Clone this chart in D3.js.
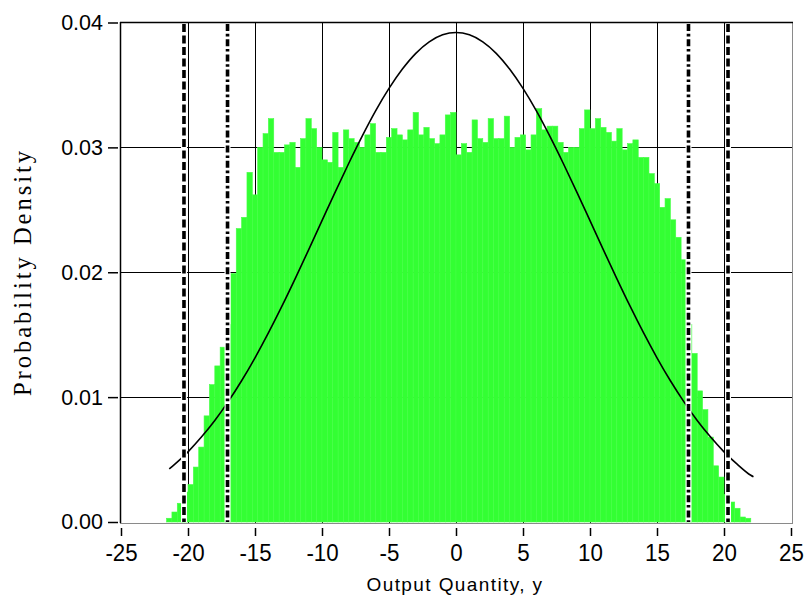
<!DOCTYPE html>
<html>
<head>
<meta charset="utf-8">
<script src="https://cdn.jsdelivr.net/npm/d3@7"></script>
<style>
    html, body { margin: 0; padding: 0; background: #fff; }
    #chart { width: 804px; height: 595px; }
    .tick text { fill: #000; }
</style>
</head>
<body>
<div id="chart"></div>
<script>
// Histogram of the output quantity (bins of equal width starting at histStart)
const histStart = -21.6;
const histBinWidth = 0.4;
const histDensity = [
    0.0003, 0.0008, 0.0015, 0.0024, 0.0030, 0.0044, 0.0060, 0.0085, 0.0110, 0.0125,
    0.0140, 0.0158, 0.0199, 0.0235, 0.0244, 0.0280, 0.0262, 0.0300, 0.0311, 0.0323,
    0.0296, 0.0296, 0.0302, 0.0304, 0.0284, 0.0307, 0.0323, 0.0315, 0.0300, 0.0290,
    0.0288, 0.0312, 0.0284, 0.0314, 0.0307, 0.0304, 0.0300, 0.0310, 0.0319, 0.0296,
    0.0296, 0.0308, 0.0315, 0.0310, 0.0306, 0.0314, 0.0328, 0.0310, 0.0316, 0.0307,
    0.0303, 0.0310, 0.0326, 0.0328, 0.0294, 0.0303, 0.0296, 0.0322, 0.0307, 0.0304,
    0.0323, 0.0307, 0.0307, 0.0325, 0.0300, 0.0308, 0.0310, 0.0298, 0.0310, 0.0331,
    0.0314, 0.0317, 0.0317, 0.0304, 0.0296, 0.0300, 0.0300, 0.0315, 0.0330, 0.0315,
    0.0323, 0.0316, 0.0312, 0.0305, 0.0315, 0.0298, 0.0303, 0.0306, 0.0292, 0.0292,
    0.0279, 0.0271, 0.0252, 0.0259, 0.0242, 0.0228, 0.0210, 0.0158, 0.0135, 0.0105,
    0.0090, 0.0068, 0.0045, 0.0036, 0.0022, 0.0016, 0.0011, 0.0004, 0.0003
];

// Gaussian approximation curve
const curveX = [-21.4, -21, -20, -19, -18, -17, -16, -15, -14, -13, -12, -11, -10, -9, -8, -7, -6, -5, -4, -3, -2, -1,
    0, 1, 2, 3, 4, 5, 6, 7, 8, 9, 10, 11, 12, 13, 14, 15, 16, 17, 18, 19, 20, 21, 22, 22.2];
const curveY = [0.00425, 0.00461, 0.00562, 0.00680, 0.00813, 0.00964, 0.01131, 0.01315, 0.01514, 0.01726,
    0.01949, 0.02179, 0.02413, 0.02646, 0.02873, 0.03090, 0.03292, 0.03472, 0.03627, 0.03753, 0.03845, 0.03901,
    0.03920,
    0.03901, 0.03845, 0.03753, 0.03627, 0.03472, 0.03292, 0.03090, 0.02873, 0.02646, 0.02413, 0.02179, 0.01949,
    0.01726, 0.01514, 0.01315, 0.01131, 0.00964, 0.00813, 0.00680, 0.00562, 0.00461, 0.00374, 0.00362];

// Coverage interval limits
const dashedLimits = [-20.3, 20.3];
const dashDotLimits = [-17.05, 17.35];

// Axes
const xTicks = [-25, -20, -15, -10, -5, 0, 5, 10, 15, 20, 25];
const yTicks = [0, 0.01, 0.02, 0.03, 0.04];
const xTitle = 'Output Quantity, y';
const yTitle = 'Probability Density';

const svg = d3.select('#chart')
    .append('svg')
    .attr('width', 804)
    .attr('height', 595);

const plotLeft = 120, plotRight = 792, plotTop = 22, plotBottom = 523;

const xScale = d3.scaleLinear().domain([-25, 25]).range([121, 791]);
const yScale = d3.scaleLinear().domain([0, 0.04]).range([522, 22.5]);

// Grid lines (behind the histogram)
svg.append('g')
    .selectAll('line')
    .data(xTicks.slice(1, -1))
    .enter()
    .append('line')
    .attr('x1', d => Math.round(xScale(d)) + 0.5)
    .attr('x2', d => Math.round(xScale(d)) + 0.5)
    .attr('y1', plotTop)
    .attr('y2', plotBottom)
    .attr('stroke', '#000')
    .attr('stroke-width', 1);

svg.append('g')
    .selectAll('line')
    .data(yTicks.slice(1, -1))
    .enter()
    .append('line')
    .attr('x1', plotLeft)
    .attr('x2', plotRight)
    .attr('y1', d => Math.round(yScale(d)) + 0.5)
    .attr('y2', d => Math.round(yScale(d)) + 0.5)
    .attr('stroke', '#000')
    .attr('stroke-width', 1);

// Histogram bars
svg.append('g')
    .selectAll('rect')
    .data(histDensity)
    .enter()
    .append('rect')
    .attr('x', (d, i) => xScale(histStart + i * histBinWidth))
    .attr('width', xScale(histBinWidth) - xScale(0))
    .attr('y', d => yScale(d))
    .attr('height', d => yScale(0) - yScale(d))
    .attr('fill', '#33ff33')
    .attr('stroke', '#45ff45')
    .attr('stroke-width', 0.6);

// Frame
svg.append('rect')
    .attr('x', plotLeft + 0.5)
    .attr('y', plotTop + 0.5)
    .attr('width', plotRight - plotLeft)
    .attr('height', plotBottom - plotTop)
    .attr('fill', 'none')
    .attr('stroke', '#8a8a8a')
    .attr('stroke-width', 1);
svg.append('line')
    .attr('x1', plotLeft + 0.5).attr('x2', plotLeft + 0.5)
    .attr('y1', plotTop).attr('y2', plotBottom)
    .attr('stroke', '#000').attr('stroke-width', 1.5);
svg.append('line')
    .attr('x1', plotLeft).attr('x2', plotRight + 1)
    .attr('y1', plotTop + 0.5).attr('y2', plotTop + 0.5)
    .attr('stroke', '#000').attr('stroke-width', 1.5);

// Curve
const line = d3.line()
    .x((d, i) => xScale(curveX[i]))
    .y(d => yScale(d))
    .curve(d3.curveMonotoneX);

svg.append('path')
    .datum(curveY)
    .attr('fill', 'none')
    .attr('stroke', '#000')
    .attr('stroke-width', 1.6)
    .attr('d', line);

// Vertical limit lines with white halo
function limitLines(values, dash) {
    const g = svg.append('g');
    g.selectAll('.halo')
        .data(values)
        .enter()
        .append('line')
        .attr('x1', d => xScale(d)).attr('x2', d => xScale(d))
        .attr('y1', plotTop + 2).attr('y2', yScale(0))
        .attr('stroke', '#fff')
        .attr('stroke-width', 6);
    g.selectAll('.limit')
        .data(values)
        .enter()
        .append('line')
        .attr('x1', d => xScale(d)).attr('x2', d => xScale(d))
        .attr('y1', plotTop + 2).attr('y2', yScale(0))
        .attr('stroke', '#000')
        .attr('stroke-width', 3.6)
        .attr('stroke-dasharray', dash);
}
limitLines(dashedLimits, '8,3.5');
limitLines(dashDotLimits, '7,2.8,2.6,2.8');

// X axis
const xAxis = svg.append('g')
    .attr('transform', 'translate(0,528)')
    .call(d3.axisBottom(xScale)
        .tickValues(xTicks)
        .tickSize(8)
        .tickPadding(8)
        .tickFormat(d => String(d)));
xAxis.select('.domain').remove();
xAxis.selectAll('.tick line').attr('stroke', '#000').attr('stroke-width', 1.5);
xAxis.selectAll('.tick text')
    .attr('font-family', 'Liberation Sans, Arial, sans-serif')
    .attr('font-size', 24)
    .attr('transform', 'scale(0.93,1)');

// Y axis
const yAxis = svg.append('g')
    .attr('transform', 'translate(118,0)')
    .call(d3.axisLeft(yScale)
        .tickValues(yTicks)
        .tickSize(10)
        .tickPadding(5)
        .tickFormat(d3.format('.2f')));
yAxis.select('.domain').remove();
yAxis.selectAll('.tick line').attr('stroke', '#000').attr('stroke-width', 1.5);
yAxis.selectAll('.tick text')
    .attr('font-family', 'Liberation Sans, Arial, sans-serif')
    .attr('font-size', 21.5);

// Axis titles
svg.append('text')
    .attr('x', 455)
    .attr('y', 591)
    .attr('text-anchor', 'middle')
    .attr('font-family', 'Liberation Sans, Arial, sans-serif')
    .attr('font-size', 19)
    .attr('letter-spacing', 1.4)
    .text(xTitle);

svg.append('text')
    .attr('transform', 'translate(31,272) rotate(-90)')
    .attr('text-anchor', 'middle')
    .attr('font-family', 'Liberation Serif, Times New Roman, serif')
    .attr('font-size', 24.5)
    .attr('letter-spacing', 3)
    .text(yTitle);
</script>
</body>
</html>
